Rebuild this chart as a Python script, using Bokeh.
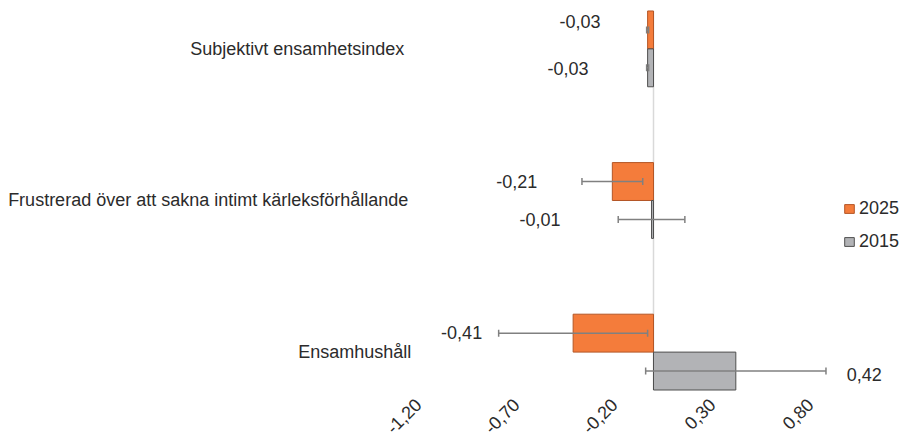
import math
from bokeh.plotting import figure
from bokeh.models import (ColumnDataSource, Range1d, FixedTicker, CustomJSTickFormatter,
                          Whisker, TeeHead, Legend, LegendItem)
from bokeh.core.properties import value
from bokeh.embed import file_html
from bokeh.resources import INLINE

# ---- data ----
categories = ["Subjektivt ensamhetsindex",
              "Frustrerad över att sakna intimt kärleksförhållande",
              "Ensamhushåll"]
series = ["2025", "2015"]
val_2025 = [-0.03, -0.21, -0.41]
val_2015 = [-0.03, -0.01, 0.42]
err_2025 = [0.005, 0.155, 0.38]
err_2015 = [0.005, 0.17, 0.46]
label_2025 = ["-0,03", "-0,21", "-0,41"]
label_2015 = ["-0,03", "-0,01", "0,42"]
tick_values = [-1.2, -0.7, -0.2, 0.3, 0.8]

# ---- styles ----
FONT = "Liberation Sans"
FS = "18px"
TXT = "#2b2b2b"
ORANGE = "#F47C3B"
ORANGE_LINE = "#B45626"
GREY = "#B2B3B6"
GREY_LINE = "#4f4f4f"
ERR = "#808080"
BAR_H = 0.25
# label pixel offsets (style)
dx_2025 = [-47, -75, -91]
dy_2025 = [-8, 0, -1]
dx_2015 = [-59, -91, 111]
dy_2015 = [1, 0, 3]
cat_dx = [-14, -10, -7]

W, H = 902, 442
PX_PER_X = 196.0
ZERO_PX = 653.0
PX_PER_CAT = 152.0
FRAME_H = 392.0
TOP_PAD = 48.5

x_start = -ZERO_PX / PX_PER_X
x_end = (W - ZERO_PX) / PX_PER_X
y_top = -TOP_PAD / PX_PER_CAT
y_bottom = y_top + FRAME_H / PX_PER_CAT

p = figure(width=W, height=H, output_backend="svg", toolbar_location=None,
           x_range=Range1d(x_start, x_end), y_range=Range1d(y_bottom, y_top),
           y_axis_location=None, min_border_left=0, min_border_right=0,
           min_border_top=0, min_border_bottom=int(H - FRAME_H))
p.xgrid.visible = False
p.ygrid.visible = False
p.outline_line_color = None
p.background_fill_color = "white"
p.border_fill_color = "white"

idx = list(range(len(categories)))
y25 = [i - BAR_H / 2 for i in idx]
y15 = [i + BAR_H / 2 for i in idx]

# zero line
p.segment(x0=[0], y0=[idx[0] - BAR_H], x1=[0], y1=[idx[-1] + BAR_H],
          line_color="#d9d9d9", line_width=1.5)

s25 = ColumnDataSource(dict(y=y25, v=val_2025, lo=[v - e for v, e in zip(val_2025, err_2025)],
                            hi=[v + e for v, e in zip(val_2025, err_2025)], lab=label_2025,
                            dx=dx_2025, dy=dy_2025,
                            al=["right" if v < 0 else "left" for v in val_2025]))
s15 = ColumnDataSource(dict(y=y15, v=val_2015, lo=[v - e for v, e in zip(val_2015, err_2015)],
                            hi=[v + e for v, e in zip(val_2015, err_2015)], lab=label_2015,
                            dx=dx_2015, dy=dy_2015,
                            al=["right" if v < 0 else "left" for v in val_2015]))

r25 = p.hbar(y="y", left=0, right="v", height=BAR_H, source=s25,
             fill_color=ORANGE, line_color=ORANGE_LINE, line_width=1)
r15 = p.hbar(y="y", left=0, right="v", height=BAR_H, source=s15,
             fill_color=GREY, line_color=GREY_LINE, line_width=1)

for src in (s25, s15):
    w = Whisker(source=src, base="y", lower="lo", upper="hi", dimension="width",
                line_color=ERR, line_width=1.5, level="annotation",
                lower_head=TeeHead(size=7, line_color=ERR, line_width=1.5),
                upper_head=TeeHead(size=7, line_color=ERR, line_width=1.5))
    p.add_layout(w)
    p.text(x="v", y="y", text="lab", x_offset="dx", y_offset="dy", source=src,
           text_align="al", text_baseline="middle", text_font=value(FONT),
           text_font_size=FS, text_color=TXT)

# category labels
cat_src = ColumnDataSource(dict(x=[tick_values[0]] * len(categories), y=idx,
                                t=categories, dx=cat_dx))
p.text(x="x", y="y", text="t", x_offset="dx", source=cat_src,
       text_align="right", text_baseline="middle",
       text_font=value(FONT), text_font_size=FS, text_color=TXT)

# x axis
ax = p.xaxis[0]
ax.ticker = FixedTicker(ticks=tick_values)
ax.formatter = CustomJSTickFormatter(code="return tick.toFixed(2).replace('.', ',');")
ax.major_label_orientation = math.pi / 4
ax.axis_line_color = None
ax.major_tick_line_color = None
ax.minor_tick_line_color = None
ax.major_tick_out = 0
ax.major_label_standoff = 10
ax.major_label_text_font = FONT
ax.major_label_text_font_size = FS
ax.major_label_text_color = TXT

legend = Legend(items=[LegendItem(label="2025", renderers=[r25]),
                       LegendItem(label="2015", renderers=[r15])],
                location=(843, 139), padding=0, margin=0, spacing=12,
                glyph_width=12, glyph_height=11, label_standoff=4,
                label_height=20, label_text_font=FONT, label_text_font_size=FS,
                label_text_color=TXT, border_line_color=None,
                background_fill_alpha=0)
p.add_layout(legend)

open("out.html", "w").write(file_html(p, INLINE))
